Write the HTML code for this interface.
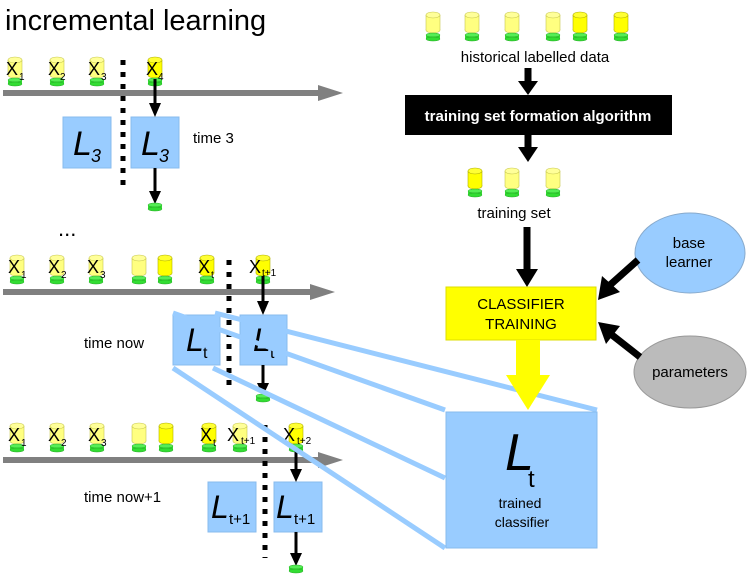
<!DOCTYPE html>
<html><head><meta charset="utf-8"><style>
html,body{margin:0;padding:0;background:#fff}
svg{display:block;font-family:"Liberation Sans",Arial,sans-serif}
</style></head><body>
<svg width="747" height="580" viewBox="0 0 747 580" xmlns="http://www.w3.org/2000/svg">
<defs>
<symbol id="cy" overflow="visible">
<rect x="-7" y="3" width="14" height="15" fill="#ffff80"/>
<ellipse cx="0" cy="18" rx="7" ry="3" fill="#ffff80" stroke="#c8c850" stroke-width="0.6"/>
<rect x="-7" y="3" width="14" height="15" fill="#ffff80"/>
<line x1="-7" y1="3" x2="-7" y2="18" stroke="#c8c850" stroke-width="0.6"/>
<line x1="7" y1="3" x2="7" y2="18" stroke="#c8c850" stroke-width="0.6"/>
<ellipse cx="0" cy="3" rx="7" ry="3" fill="#ffff99" stroke="#c8c850" stroke-width="0.6"/>
<rect x="-7" y="23" width="14" height="4" fill="#33dd33"/>
<ellipse cx="0" cy="23" rx="7" ry="2" fill="#55ee55" stroke="#22aa22" stroke-width="0.5"/>
<ellipse cx="0" cy="27" rx="7" ry="2" fill="#33dd33" stroke="#22aa22" stroke-width="0.5"/>
</symbol>
<symbol id="cyd" overflow="visible">
<rect x="-7" y="3" width="14" height="15" fill="#ffff00"/>
<ellipse cx="0" cy="18" rx="7" ry="3" fill="#ffff00" stroke="#b0b000" stroke-width="0.6"/>
<rect x="-7" y="3" width="14" height="15" fill="#ffff00"/>
<line x1="-7" y1="3" x2="-7" y2="18" stroke="#b0b000" stroke-width="0.6"/>
<line x1="7" y1="3" x2="7" y2="18" stroke="#b0b000" stroke-width="0.6"/>
<ellipse cx="0" cy="3" rx="7" ry="3" fill="#ffff33" stroke="#b0b000" stroke-width="0.6"/>
<rect x="-7" y="23" width="14" height="4" fill="#33dd33"/>
<ellipse cx="0" cy="23" rx="7" ry="2" fill="#55ee55" stroke="#22aa22" stroke-width="0.5"/>
<ellipse cx="0" cy="27" rx="7" ry="2" fill="#33dd33" stroke="#22aa22" stroke-width="0.5"/>
</symbol>
<symbol id="disc" overflow="visible">
<rect x="-7" y="0" width="14" height="4" fill="#33dd33"/>
<ellipse cx="0" cy="0" rx="7" ry="2" fill="#55ee55" stroke="#22aa22" stroke-width="0.5"/>
<ellipse cx="0" cy="4" rx="7" ry="2" fill="#33dd33" stroke="#22aa22" stroke-width="0.5"/>
</symbol>
</defs>

<text x="5" y="30" font-size="29">incremental learning</text>

<!-- Row 1 -->
<g>
<line x1="3" y1="93" x2="322" y2="93" stroke="#808080" stroke-width="6"/>
<path d="M318,85 L343,93 L318,101z" fill="#808080"/>
<use href="#cy" x="15" y="57"/><use href="#cy" x="57" y="57"/><use href="#cy" x="97" y="57"/><use href="#cyd" x="155" y="57"/>
<g font-size="18"><text x="6" y="75">X</text><text x="48" y="75">X</text><text x="88" y="75">X</text><text x="146" y="75">X</text></g>
<g font-size="10"><text x="19" y="80">1</text><text x="60" y="80">2</text><text x="101" y="80">3</text><text x="158" y="80">4</text></g>
<line x1="123" y1="60" x2="123" y2="190" stroke="#000" stroke-width="5" stroke-dasharray="5,7"/>
<rect x="63" y="117" width="48" height="51" fill="#99ccff" stroke="#88bbee"/>
<rect x="131" y="117" width="48" height="51" fill="#99ccff" stroke="#88bbee"/>
<g font-style="italic"><text x="73" y="155" font-size="34">L</text><text x="91" y="162" font-size="18">3</text>
<text x="141" y="155" font-size="34">L</text><text x="159" y="162" font-size="18">3</text></g>
<text x="193" y="143" font-size="15">time 3</text>
<line x1="155" y1="79" x2="155" y2="104" stroke="#000" stroke-width="3"/><path d="M149,103 L161,103 L155,117z" fill="#000"/>
<line x1="155" y1="168" x2="155" y2="192" stroke="#000" stroke-width="3"/><path d="M149,191 L161,191 L155,204z" fill="#000"/>
<use href="#disc" x="155" y="205"/>
</g>

<text x="58" y="236" font-size="22">...</text>

<!-- Row 2 -->
<g>
<line x1="3" y1="292" x2="312" y2="292" stroke="#808080" stroke-width="6"/>
<path d="M310,284 L335,292 L310,300z" fill="#808080"/>
<use href="#cy" x="17" y="255"/><use href="#cy" x="57" y="255"/><use href="#cy" x="96" y="255"/><use href="#cy" x="139" y="255"/><use href="#cyd" x="165" y="255"/><use href="#cyd" x="207" y="255"/><use href="#cyd" x="263" y="255"/>
<g font-size="18"><text x="8" y="273">X</text><text x="48" y="273">X</text><text x="87" y="273">X</text><text x="198" y="273">X</text><text x="249" y="273">X</text></g>
<g font-size="10"><text x="21" y="278">1</text><text x="61" y="278">2</text><text x="100" y="278">3</text><text x="211" y="278">t</text><text x="262" y="276">t+1</text></g>
<line x1="229" y1="260" x2="229" y2="386" stroke="#000" stroke-width="5" stroke-dasharray="5,7"/>
<line x1="263" y1="276" x2="263" y2="302" stroke="#000" stroke-width="3"/><path d="M257,301 L269,301 L263,315z" fill="#000"/>
</g>

<!-- Row 3 -->
<g>
<line x1="3" y1="460" x2="322" y2="460" stroke="#808080" stroke-width="6"/>
<path d="M318,452 L343,460 L318,468z" fill="#808080"/>
<use href="#cy" x="17" y="423"/><use href="#cy" x="57" y="423"/><use href="#cy" x="97" y="423"/><use href="#cy" x="139" y="423"/><use href="#cyd" x="166" y="423"/><use href="#cyd" x="209" y="423"/><use href="#cy" x="240" y="423"/><use href="#cyd" x="296" y="423"/>
<g font-size="18"><text x="8" y="441">X</text><text x="48" y="441">X</text><text x="88" y="441">X</text><text x="200" y="441">X</text><text x="227" y="441">X</text><text x="283" y="441">X</text></g>
<g font-size="10"><text x="21" y="446">1</text><text x="61" y="446">2</text><text x="101" y="446">3</text><text x="213" y="446">t</text><text x="241" y="444">t+1</text><text x="297" y="444">t+2</text></g>
<line x1="265" y1="425" x2="265" y2="558" stroke="#000" stroke-width="5" stroke-dasharray="5,7"/>
<rect x="208" y="482" width="48" height="50" fill="#99ccff" stroke="#88bbee"/>
<rect x="274" y="482" width="48" height="50" fill="#99ccff" stroke="#88bbee"/>
<g font-style="italic" font-size="32"><text x="211" y="518">L</text><text x="276" y="518">L</text></g>
<g font-size="15"><text x="229" y="524">t+1</text><text x="294" y="524">t+1</text></g>
<text x="84" y="502" font-size="15">time now+1</text>
<line x1="296" y1="448" x2="296" y2="470" stroke="#000" stroke-width="3"/><path d="M290,469 L302,469 L296,482z" fill="#000"/>
<line x1="296" y1="532" x2="296" y2="554" stroke="#000" stroke-width="3"/><path d="M290,553 L302,553 L296,566z" fill="#000"/>
<use href="#disc" x="296" y="567"/>
</g>

<rect x="173" y="315" width="47" height="50" fill="#99ccff" stroke="#88bbee"/>
<rect x="240" y="315" width="47" height="50" fill="#99ccff" stroke="#88bbee"/>
<g font-style="italic" font-size="32"><text x="186" y="351">L</text><text x="253" y="351">L</text></g>
<g font-size="16"><text x="203" y="358">t</text><text x="270" y="358">t</text></g>
<text x="84" y="348" font-size="15">time now</text>
<line x1="263" y1="365" x2="263" y2="384" stroke="#000" stroke-width="3"/><path d="M257,383 L269,383 L263,396z" fill="#000"/>
<use href="#disc" x="263" y="396"/>

<g stroke="#99ccff" stroke-width="5" fill="none">
<line x1="173" y1="313" x2="445" y2="410"/>
<line x1="215" y1="313" x2="597" y2="410"/>
<line x1="173" y1="368" x2="445" y2="548"/>
<line x1="213" y1="368" x2="445" y2="478"/>
</g>

<!-- Right side -->
<use href="#cy" x="433" y="12"/><use href="#cy" x="472" y="12"/><use href="#cy" x="512" y="12"/><use href="#cy" x="553" y="12"/><use href="#cyd" x="580" y="12"/><use href="#cyd" x="621" y="12"/>
<text x="535" y="62" font-size="15" text-anchor="middle">historical labelled data</text>
<line x1="528" y1="68" x2="528" y2="82" stroke="#000" stroke-width="7"/><path d="M518,81 L538,81 L528,95z" fill="#000"/>
<rect x="405" y="95" width="267" height="40" fill="#000"/>
<text x="538" y="121" font-size="15" font-weight="bold" fill="#fff" text-anchor="middle">training set formation algorithm</text>
<line x1="528" y1="135" x2="528" y2="148" stroke="#000" stroke-width="7"/><path d="M518,147 L538,147 L528,162z" fill="#000"/>
<use href="#cyd" x="475" y="168"/><use href="#cy" x="512" y="168"/><use href="#cy" x="553" y="168"/>
<text x="514" y="218" font-size="15" text-anchor="middle">training set</text>
<line x1="527" y1="227" x2="527" y2="270" stroke="#000" stroke-width="7"/><path d="M516,269 L538,269 L527,287z" fill="#000"/>
<rect x="446" y="287" width="150" height="53" fill="#ffff00" stroke="#dddd00"/>
<text x="521" y="309" font-size="15" text-anchor="middle">CLASSIFIER</text>
<text x="521" y="329" font-size="15" text-anchor="middle">TRAINING</text>
<path d="M516,340 L540,340 L540,375 L550,375 L528,410 L506,375 L516,375z" fill="#ffff00"/>
<rect x="446" y="412" width="151" height="136" fill="#99ccff" stroke="#88bbee"/>
<text x="505" y="470" font-size="52" font-style="italic">L</text>
<text x="528" y="487" font-size="24">t</text>
<text x="520" y="508" font-size="14" text-anchor="middle">trained</text>
<text x="522" y="527" font-size="14" text-anchor="middle">classifier</text>
<ellipse cx="690" cy="253" rx="55" ry="40" fill="#99ccff" stroke="#88aacc"/>
<text x="689" y="248" font-size="15" text-anchor="middle">base</text>
<text x="689" y="267" font-size="15" text-anchor="middle">learner</text>
<ellipse cx="690" cy="372" rx="56" ry="36" fill="#bbbbbb" stroke="#999"/>
<text x="690" y="377" font-size="15" text-anchor="middle">parameters</text>
<line x1="638" y1="260" x2="610" y2="285" stroke="#000" stroke-width="7"/><path d="M598,300 L602,276 L620,292z" fill="#000"/>
<line x1="640" y1="357" x2="612" y2="335" stroke="#000" stroke-width="7"/><path d="M598,322 L620,326 L606,344z" fill="#000"/>
</svg>
</body></html>
